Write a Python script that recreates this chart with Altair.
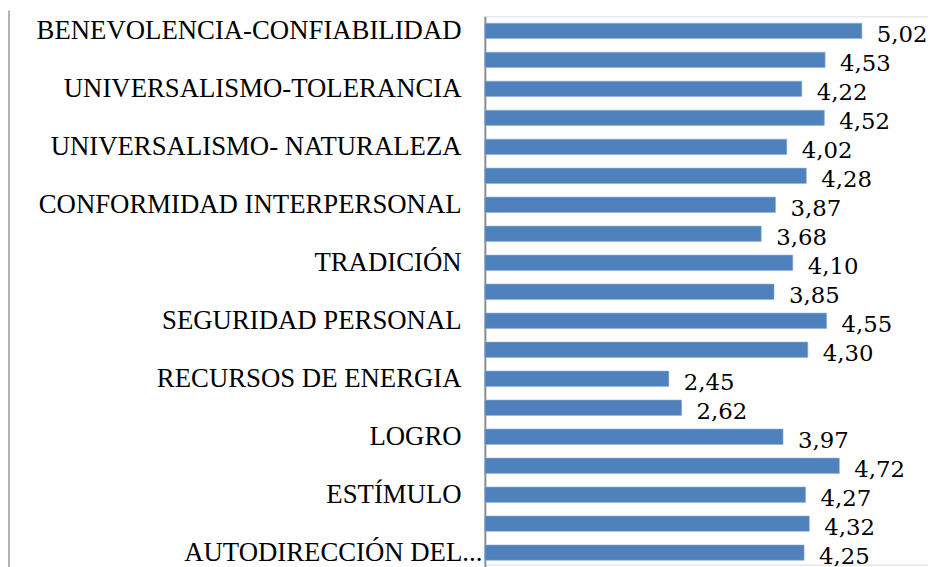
import altair as alt
import pandas as pd

categories = [
    "BENEVOLENCIA-CONFIABILIDAD",
    "BENEVOLENCIA-CUIDADO",
    "UNIVERSALISMO-TOLERANCIA",
    "UNIVERSALISMO-COMPROMISO",
    "UNIVERSALISMO- NATURALEZA",
    "HUMILDAD",
    "CONFORMIDAD INTERPERSONAL",
    "CONFORMIDAD-REGLAS",
    "TRADICIÓN",
    "SEGURIDAD SOCIAL",
    "SEGURIDAD PERSONAL",
    "IMAGEN PÚBLICA",
    "RECURSOS DE ENERGIA",
    "PODER-DOMINANCIA",
    "LOGRO",
    "HEDONISMO",
    "ESTÍMULO",
    "AUTODIRECCIÓN DE LA ACCIÓN",
    "AUTODIRECCIÓN DEL...",
]
values = [5.02, 4.53, 4.22, 4.52, 4.02, 4.28, 3.87, 3.68, 4.10, 3.85,
          4.55, 4.30, 2.45, 2.62, 3.97, 4.72, 4.27, 4.32, 4.25]
shown_labels = categories[::2]

df = pd.DataFrame({
    "cat": categories,
    "val": values,
    "lbl": [f"{v:.2f}".replace(".", ",") for v in values],
})

y_enc = alt.Y(
    "cat:N",
    sort=categories,
    scale=alt.Scale(range=[0, 555.6], paddingInner=0.47, paddingOuter=0.235),
    axis=alt.Axis(
        title=None,
        values=shown_labels,
        ticks=False,
        grid=False,
        domainColor="#8c8c8c",
        domainWidth=2,
        labelFont="Liberation Serif",
        labelFontSize=27,
        labelColor="#000000",
        labelLimit=0,
        labelPadding={"condition": {"test": "datum.value === 'AUTODIRECCIÓN DEL...'", "value": 3}, "value": 24},
    ),
)
x_enc = alt.X("val:Q", scale=alt.Scale(domain=[0, 5.9], nice=False, zero=True), axis=None)

base = alt.Chart(df)
bars = base.mark_bar(color="#4F81BD", stroke="#8FB0DA", strokeWidth=0.6).encode(x=x_enc, y=y_enc)
texts = base.mark_text(
    align="left", baseline="middle", dx=15, dy=4,
    font="DejaVu Serif", fontSize=23, color="#000000",
).encode(x=x_enc, y=y_enc, text="lbl:N")

frame = alt.Chart(pd.DataFrame({"a": [0]})).mark_rule(color="#9a9a9a", strokeWidth=1.5).encode(
    x=alt.value(-480), y=alt.value(-6), y2=alt.value(560)
)

chart = alt.layer(bars, texts, frame).properties(
    width=447,
    height=553,
    padding={"left": 481, "top": 6, "right": 0, "bottom": 0},
    autosize=alt.AutoSizeParams(type="none"),
).configure_view(stroke=None).configure(background="white")

chart.save("out.html", embed_options={"renderer": "svg", "actions": False})
